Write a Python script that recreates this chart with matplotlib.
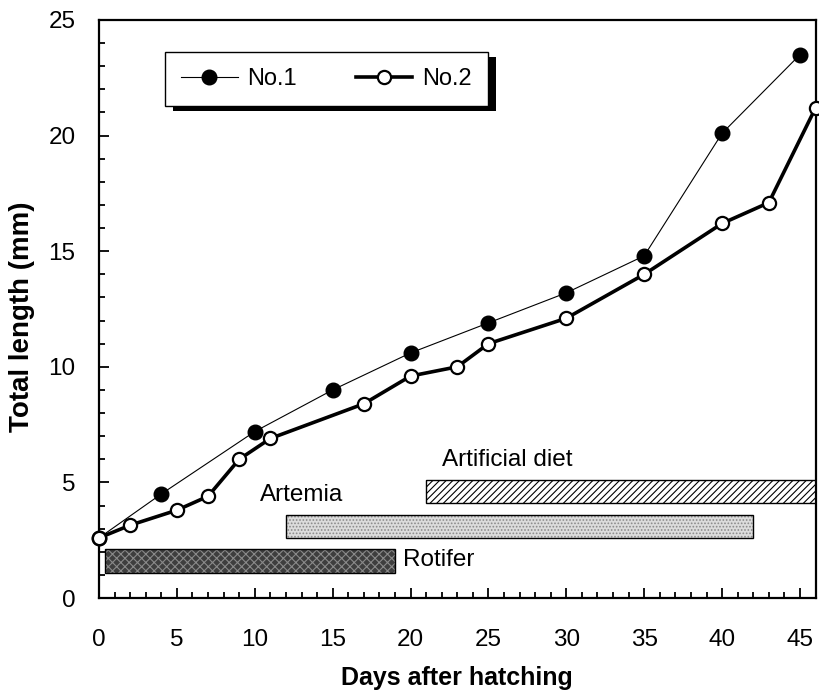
import matplotlib
matplotlib.use("Agg")
import matplotlib.pyplot as plt
from matplotlib.ticker import MultipleLocator
from matplotlib.patches import Rectangle
from matplotlib.transforms import IdentityTransform

plt.rcParams['font.family'] = ['Liberation Sans', 'DejaVu Sans']
plt.rcParams['hatch.linewidth'] = 0.8

# ---- data ----
days_no1 = [0, 4, 10, 15, 20, 25, 30, 35, 40, 45]
len_no1 = [2.6, 4.5, 7.2, 9.0, 10.6, 11.9, 13.2, 14.8, 20.1, 23.5]

days_no2 = [0, 2, 5, 7, 9, 11, 17, 20, 23, 25, 30, 35, 40, 43, 46]
len_no2 = [2.6, 3.15, 3.8, 4.4, 6.0, 6.9, 8.4, 9.6, 10.0, 11.0, 12.1, 14.0, 16.2, 17.1, 21.2]

diet_names = ['Rotifer', 'Artemia', 'Artificial diet']
diet_start = [0.4, 12, 21]
diet_end = [19, 42, 46]

series_labels = ['No.1', 'No.2']
x_ticks = [0, 5, 10, 15, 20, 25, 30, 35, 40, 45]
y_ticks = [0, 5, 10, 15, 20, 25]

# ---- layout / styles ----
bar_centers = [1.6, 3.1, 4.6]
bar_height = 1.0
bar_faces = ['#3e3e3e', '#dcdcdc', 'white']
bar_hatches = ['xxxx', '.....', '/////']
hatch_colors = ['#8a8a8a', '#8a8a8a', 'black']
label_pos = [(19.5, 1.65), (10.3, 4.45), (22.0, 5.97)]

fig = plt.figure(figsize=(8.19, 6.94), dpi=100)
ax = fig.add_axes([0.1209, 0.1383, 0.8749, 0.8329])

# bars
for i, name in enumerate(diet_names):
    w = diet_end[i] - diet_start[i]
    ax.barh(bar_centers[i], w, height=bar_height, left=diet_start[i],
            color=bar_faces[i], edgecolor='none', zorder=1)
    ax.barh(bar_centers[i], w, height=bar_height, left=diet_start[i],
            color='none', edgecolor=hatch_colors[i], hatch=bar_hatches[i],
            linewidth=0, zorder=1.1)
    ax.barh(bar_centers[i], w, height=bar_height, left=diet_start[i],
            color='none', edgecolor='black', linewidth=1.0, zorder=1.2)
    ax.text(label_pos[i][0], label_pos[i][1], name, fontsize=17.5,
            ha='left', va='center', zorder=3)

# lines
l1, = ax.plot(days_no1, len_no1, '-o', color='black', lw=0.8,
              markersize=10.5, markerfacecolor='black', markeredgecolor='black',
              label=series_labels[0], zorder=4, clip_on=False)
l2, = ax.plot(days_no2, len_no2, '-o', color='black', lw=2.6,
              markersize=9.5, markerfacecolor='white', markeredgecolor='black',
              markeredgewidth=1.6, label=series_labels[1], zorder=4.5, clip_on=False)

ax.set_xlim(0, 46)
ax.set_ylim(0, 25)
ax.set_xticks(x_ticks)
ax.set_yticks(y_ticks)
ax.xaxis.set_minor_locator(MultipleLocator(1))
ax.yaxis.set_minor_locator(MultipleLocator(1))
ax.tick_params(which='both', direction='in', top=False, right=False, width=1.3)
ax.tick_params(which='major', length=7, labelsize=17.5)
ax.tick_params(axis='x', which='major', pad=22)
ax.tick_params(axis='y', which='major', pad=17)
ax.tick_params(which='minor', length=4.5)
for s in ax.spines.values():
    s.set_linewidth(1.6)

ax.set_xlabel('Days after hatching', fontsize=18, fontweight='bold')
ax.set_ylabel('Total length (mm)', fontsize=20, fontweight='bold')
ax.xaxis.set_label_coords(0.5, -0.117)
ax.xaxis.label.set_va('top')
ax.yaxis.set_label_coords(-0.089, 0.486)

leg = ax.legend(handles=[l1, l2], loc='upper left', bbox_to_anchor=(0.092, 0.945),
                borderaxespad=0, ncol=2, fontsize=17, frameon=True, fancybox=False,
                edgecolor='black', framealpha=1, handlelength=2.4, handletextpad=0.4,
                columnspacing=2.5, borderpad=0.68)
leg.get_frame().set_linewidth(1.0)
leg.set_zorder(6)

fig.canvas.draw()
bb = leg.get_window_extent()
shadow = Rectangle((bb.x0 + 8, bb.y0 - 5), bb.width, bb.height,
                   transform=IdentityTransform(), facecolor='black',
                   edgecolor='none', zorder=5.5, clip_on=False)
ax.add_artist(shadow)

fig.savefig('out.png', dpi=100)
